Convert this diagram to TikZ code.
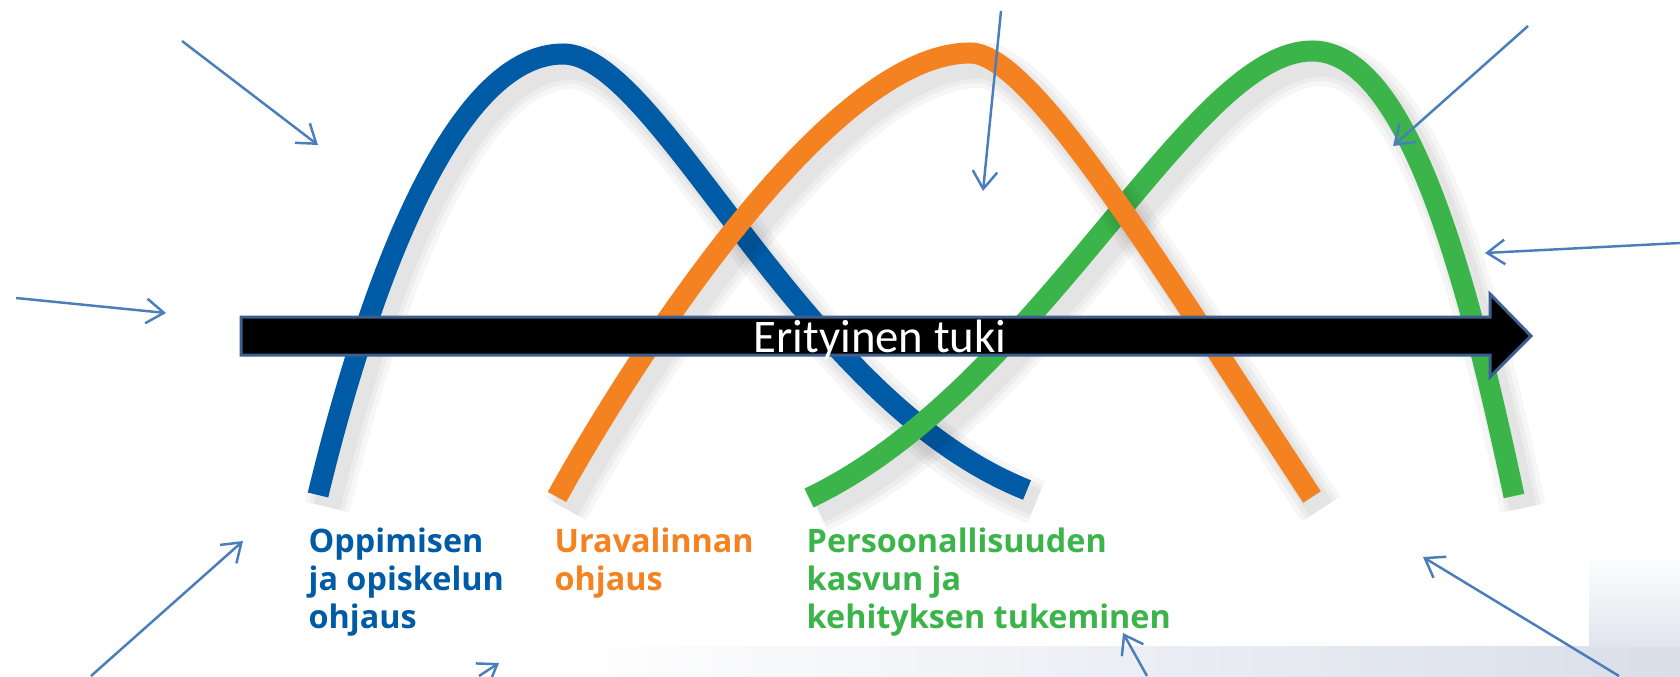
\documentclass[tikz,border=0pt]{standalone}
\usepackage{fontspec}
\usetikzlibrary{arrows.meta}
\newfontfamily\labelfont{Open Sans}
\newfontfamily\tukifont{Carlito}

\definecolor{curveblue}{HTML}{005BA6}
\definecolor{curveorange}{HTML}{F58220}
\definecolor{curvegreen}{HTML}{3BB44A}
\definecolor{ptrblue}{HTML}{4A7EBB}
\definecolor{rimblue}{HTML}{3B5F8E}
\definecolor{bandgray}{HTML}{D9DEE9}

% the three guidance curves (pixel units, y down)
\def\bluecurve{(318,495) .. controls (365,300) and (450,54) .. (563,54)
    .. controls (660,54) and (800,400) .. (1027,490)}
\def\orangecurve{(557,497) .. controls (610,400) and (820,53) .. (970,53)
    .. controls (1030,53) and (1150,250) .. (1312,497)}
\def\greencurve{(809,498) .. controls (1040,388) and (1190,51) .. (1312,51)
    .. controls (1410,51) and (1470,290) .. (1514,496)}

\begin{document}
\begin{tikzpicture}[x=0.01cm,y=-0.01cm,
    curve/.style={line width=0.21cm},
    soft shadow/.style={draw=black,opacity=0.035,shift={(9,12)}},
    pointer/.style={draw=ptrblue,line width=0.7pt,-{Straight Barb[length=5pt,width=7pt]}},
    label text/.style={inner sep=0,anchor=base west,align=left,
        font=\labelfont\bfseries\fontsize{9.2}{10.8}\selectfont},
    big arrow/.style={fill=black,draw=rimblue,line width=0.03cm,line join=miter}]

    % canvas and bottom band
    \useasboundingbox (0,0) rectangle (1680,676);
    \fill[white] (0,0) rectangle (1680,676);
    \shade[left color=white,right color=bandgray] (560,646) rectangle (1680,676);
    \shade[top color=white,bottom color=bandgray!80] (1589,553) rectangle (1680,646);

    % curves with their shadows
    \foreach \w in {0.46,0.36,0.27} {\draw[soft shadow,line width=\w cm] \bluecurve;}
    \draw[curve,curveblue] \bluecurve;
    \foreach \w in {0.46,0.36,0.27} {\draw[soft shadow,line width=\w cm] \greencurve;}
    \draw[curve,curvegreen] \greencurve;
    \foreach \w in {0.46,0.36,0.27} {\draw[soft shadow,line width=\w cm] \orangecurve;}
    \draw[curve,curveorange] \orangecurve;

    % support arrow
    \draw[big arrow] (241,317) -- (1490,317) -- (1490,294) -- (1531,336)
        -- (1490,377) -- (1490,355) -- (241,355) -- cycle;
    \node[inner sep=0,anchor=base,text=white,font=\tukifont\fontsize{13.3}{16}\selectfont]
        (tuki) at (880,352) {Erityinen tuki};

    % labels (anchored at the last line)
    \node[label text,text=curveblue] (learning) at (308,628) {Oppimisen\\ja opiskelun\\ohjaus};
    \node[label text,text=curveorange] (career) at (554,590) {Uravalinnan\\ohjaus};
    \node[label text,text=curvegreen] (growth) at (806,628) {Persoonallisuuden\\kasvun ja\\kehityksen tukeminen};

    % pointer ends
    \coordinate (p1s) at (182,41);    \coordinate (p1e) at (318,145);
    \coordinate (p2s) at (16,298);    \coordinate (p2e) at (166,313);
    \coordinate (p3s) at (1001,11);   \coordinate (p3e) at (983,191);
    \coordinate (p4s) at (1528,26);   \coordinate (p4e) at (1393,146);
    \coordinate (p5s) at (1680,243);  \coordinate (p5e) at (1485,253);
    \coordinate (p6s) at (91,676);    \coordinate (p6e) at (243,541);
    \coordinate (p7s) at (479,676);   \coordinate (p7e) at (499,663);
    \coordinate (p8s) at (1147,676);  \coordinate (p8e) at (1123,633);
    \coordinate (p9s) at (1619,676);  \coordinate (p9e) at (1423,557);

    % pointers
    \draw[pointer] (p1s) -- (p1e);
    \draw[pointer] (p2s) -- (p2e);
    \draw[pointer] (p3s) -- (p3e);
    \draw[pointer] (p4s) -- (p4e);
    \draw[pointer] (p5s) -- (p5e);
    \draw[pointer] (p6s) -- (p6e);
    \draw[pointer] (p7s) -- (p7e);
    \draw[pointer] (p8s) -- (p8e);
    \draw[pointer] (p9s) -- (p9e);

\end{tikzpicture}
\end{document}
